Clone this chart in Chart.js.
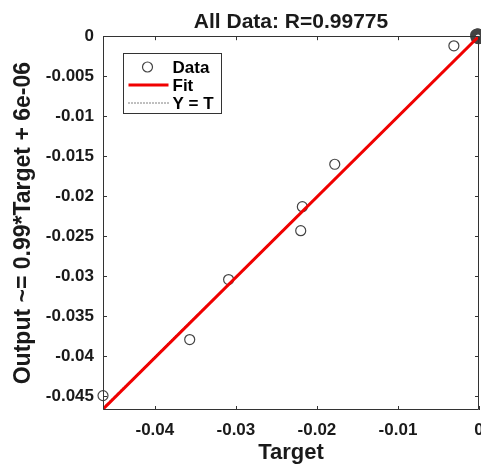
<!DOCTYPE html>
<html><head><meta charset="utf-8">
<script src="https://cdn.jsdelivr.net/npm/chart.js@4"></script>
<style>html,body{margin:0;padding:0;background:#fff}#wrap{width:481px;height:466px}</style>
</head><body><div id="wrap"><canvas id="c" width="481" height="466"></canvas></div>
<script>
// ---- data ----
const dataTargets = [-0.0464, -0.0357, -0.0309, -0.0218, -0.0220, -0.0178, -0.0031,
  0, -0.0002, -0.0001, 0, -0.0003, -0.0001, 0, -0.0002, 0, -0.0001, -0.0003, 0, -0.0002, -0.00005,
  -0.0004, -0.00035, -0.00015, -0.00025, 0, -0.0004, -0.0001, -0.0003];
const dataOutputs = [-0.0449, -0.0379, -0.0304, -0.0213, -0.0243, -0.0160, -0.0012,
  0, 0.0001, -0.0002, -0.0001, -0.0001, 0.00005, -0.0003, -0.0002, 0.0001, -0.00015, 0, -0.00025, 0.00005, -0.00005,
  0.0002, -0.0002, 0.0003, 0.00025, 0.0002, 0, -0.0003, 0.00015];
const fitTargets = [-0.0464, 0];
const fitOutputs = [-0.0466, 0];
const identTargets = [-0.0464, 0];
const identOutputs = [-0.0464, 0];
const xTickValues = [-0.04, -0.03, -0.02, -0.01, 0];
const xTickLabels = ['-0.04', '-0.03', '-0.02', '-0.01', '0'];
const yTickValues = [0, -0.005, -0.01, -0.015, -0.02, -0.025, -0.03, -0.035, -0.04, -0.045];
const yTickLabels = ['0', '-0.005', '-0.01', '-0.015', '-0.02', '-0.025', '-0.03', '-0.035', '-0.04', '-0.045'];
const xLimits = [-0.0464, 0];
const yLimits = [-0.0467, 0];
const titleText = 'All Data: R=0.99775';
const xTitle = 'Target';
const yTitle = 'Output ~= 0.99*Target + 6e-06';
const legendLabels = ['Data', 'Fit', 'Y = T'];

const FONT = '"Liberation Sans", Arial, Helvetica, sans-serif';
const AXIS_COLOR = '#333333';
const TEXT_COLOR = '#1a1a1a';

const zip = (xs, ys) => xs.map((x, i) => ({x: x, y: ys[i]}));

const boxPlugin = {
  id: 'boxTicks',
  afterDatasetsDraw(chart) {
    const {ctx, chartArea: a, scales: {x, y}} = chart;
    ctx.save();
    ctx.strokeStyle = AXIS_COLOR;
    ctx.lineWidth = 1;
    ctx.beginPath();
    ctx.rect(Math.round(a.left) + 0.5, Math.round(a.top) + 0.5, Math.round(a.right - a.left) - 1, Math.round(a.bottom - a.top) - 1);
    ctx.stroke();
    const L = 4;
    ctx.beginPath();
    xTickValues.forEach(v => {
      const px = Math.round(x.getPixelForValue(v)) + 0.5;
      ctx.moveTo(px, a.bottom); ctx.lineTo(px, a.bottom - L);
      ctx.moveTo(px, a.top); ctx.lineTo(px, a.top + L);
    });
    yTickValues.forEach(v => {
      const py = Math.round(y.getPixelForValue(v)) + 0.5;
      ctx.moveTo(a.left, py); ctx.lineTo(a.left + L, py);
      ctx.moveTo(a.right, py); ctx.lineTo(a.right - L, py);
    });
    ctx.stroke();
    ctx.restore();
  },
  afterDraw(chart) {
    const {ctx, chartArea: a} = chart;
    const ds = chart.data.datasets;
    const bx = Math.round(a.left) + 20.5, by = Math.round(a.top) + 17.5, bw = 98, bh = 60;
    ctx.save();
    ctx.fillStyle = '#ffffff';
    ctx.fillRect(bx, by, bw, bh);
    ctx.strokeStyle = AXIS_COLOR;
    ctx.lineWidth = 1;
    ctx.strokeRect(bx, by, bw, bh);
    const rows = [by + 13.5, by + 31.5, by + 49.5];
    ctx.beginPath();
    ctx.strokeStyle = ds[0].borderColor;
    ctx.lineWidth = ds[0].borderWidth;
    ctx.arc(bx + 24, rows[0], 5, 0, Math.PI * 2);
    ctx.stroke();
    ctx.beginPath();
    ctx.strokeStyle = ds[1].borderColor;
    ctx.lineWidth = ds[1].borderWidth;
    ctx.moveTo(bx + 5, rows[1]); ctx.lineTo(bx + 45, rows[1]);
    ctx.stroke();
    ctx.beginPath();
    ctx.strokeStyle = ds[2].borderColor;
    ctx.lineWidth = ds[2].borderWidth;
    ctx.setLineDash(ds[2].borderDash);
    ctx.moveTo(bx + 5, rows[2]); ctx.lineTo(bx + 45, rows[2]);
    ctx.stroke();
    ctx.setLineDash([]);
    ctx.fillStyle = '#000000';
    ctx.font = 'bold 17px ' + FONT;
    ctx.textBaseline = 'middle';
    ctx.textAlign = 'left';
    legendLabels.forEach((t, i) => ctx.fillText(t, bx + 49, rows[i] + 1));
    ctx.restore();
  }
};

new Chart(document.getElementById('c'), {
  type: 'scatter',
  data: {
    datasets: [
      {
        label: legendLabels[0],
        data: zip(dataTargets, dataOutputs),
        showLine: false,
        pointStyle: 'circle',
        pointRadius: 5,
        pointBackgroundColor: 'rgba(0,0,0,0)',
        backgroundColor: 'rgba(0,0,0,0)',
        pointBorderColor: '#444444',
        borderColor: '#444444',
        pointBorderWidth: 1.2,
        borderWidth: 1.2,
        clip: false,
        order: 2
      },
      {
        label: legendLabels[1],
        data: zip(fitTargets, fitOutputs),
        showLine: true,
        borderColor: '#f00000',
        borderWidth: 3,
        pointRadius: 0,
        order: 0
      },
      {
        label: legendLabels[2],
        data: zip(identTargets, identOutputs),
        showLine: true,
        borderColor: '#000000',
        borderWidth: 1,
        borderDash: [1, 2],
        pointRadius: 0,
        order: 1
      }
    ]
  },
  options: {
    responsive: false,
    animation: false,
    devicePixelRatio: 1,
    layout: {autoPadding: false, padding: {left: 0, right: 2, top: 0, bottom: 0}},
    plugins: {
      legend: {display: false},
      tooltip: {enabled: false},
      title: {
        display: true,
        text: titleText,
        fullSize: false,
        color: TEXT_COLOR,
        font: {family: FONT, size: 21, weight: 'bold', lineHeight: 1.2},
        padding: {top: 10, bottom: 1}
      }
    },
    scales: {
      x: {
        type: 'linear',
        min: xLimits[0],
        max: xLimits[1],
        afterBuildTicks: s => { s.ticks = xTickValues.map(v => ({value: v})); },
        afterFit: s => { s.height = 56; s.paddingLeft = 0; s.paddingRight = 0; },
        grid: {display: false, drawTicks: false},
        border: {display: false},
        ticks: {
          padding: 10,
          color: TEXT_COLOR,
          font: {family: FONT, size: 17, weight: 'bold'},
          maxRotation: 0,
          autoSkip: false,
          callback: (v, i) => xTickLabels[i]
        },
        title: {
          display: true,
          text: xTitle,
          color: TEXT_COLOR,
          font: {family: FONT, size: 22, weight: 'bold', lineHeight: 1.2},
          padding: {top: 0, bottom: 0}
        }
      },
      y: {
        type: 'linear',
        min: yLimits[0],
        max: yLimits[1],
        afterBuildTicks: s => { s.ticks = yTickValues.map(v => ({value: v})); },
        afterFit: s => { s.width = 103; s.paddingTop = 0; s.paddingBottom = 0; },
        grid: {display: false, drawTicks: false},
        border: {display: false},
        ticks: {
          padding: 9,
          color: TEXT_COLOR,
          font: {family: FONT, size: 17, weight: 'bold'},
          autoSkip: false,
          callback: (v, i) => yTickLabels[i]
        },
        title: {
          display: true,
          text: yTitle,
          color: TEXT_COLOR,
          font: {family: FONT, size: 23, weight: 'bold', lineHeight: 1.2},
          padding: {top: 10, bottom: 0}
        }
      }
    }
  },
  plugins: [boxPlugin]
});
</script>
</body></html>
